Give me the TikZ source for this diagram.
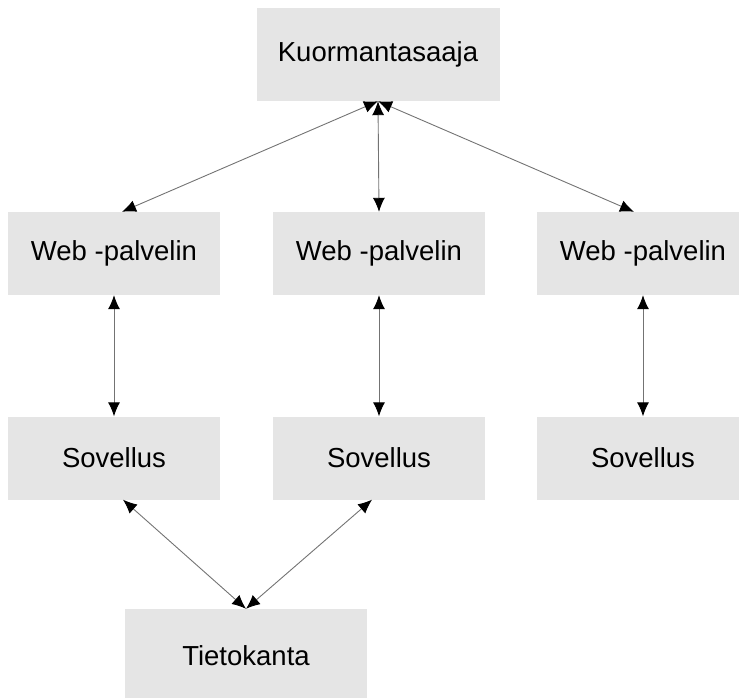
\documentclass[tikz,border=0pt]{standalone}
\usepackage{fontspec}
\setmainfont{Liberation Sans}
\usepackage{tikz}
\usetikzlibrary{arrows.meta}
\definecolor{boxgray}{HTML}{E5E5E5}
\tikzset{>={Latex[length=14pt,width=12pt,black]}}

\begin{document}
\begin{tikzpicture}[x=1pt,y=-1pt,
  box/.style={fill=boxgray, inner sep=0pt, font=\fontsize{27.5}{32}\selectfont},
  tierbox/.style={box, minimum width=212pt, minimum height=83pt},
  link/.style={<->, draw=black!55, line width=0.9pt}]

\useasboundingbox (0,0) rectangle (739,698);

% Load balancer
\node[box, minimum width=243pt, minimum height=93pt] (balancer) at (378,54.5) {Kuormantasaaja};

% Web servers
\node[tierbox] (web1) at (114,253.5) {Web -palvelin};
\node[tierbox] (web2) at (379,253.5) {Web -palvelin};
\node[tierbox] (web3) at (643,253.5) {Web -palvelin};

% Applications
\node[tierbox] (app1) at (114,458) {Sovellus};
\node[tierbox] (app2) at (379,458) {Sovellus};
\node[tierbox] (app3) at (643,458) {Sovellus};

% Database
\node[box, minimum width=242pt, minimum height=93pt] (db) at (246,655.5) {Tietokanta};

% Connections
\draw[link] (balancer.south) -- ([xshift=8pt]web1.north);
\draw[link] (balancer.south) -- (web2.north);
\draw[link] (balancer.south) -- ([xshift=-9pt]web3.north);

\draw[link] (web1.south) -- (app1.north);
\draw[link] (web2.south) -- (app2.north);
\draw[link] (web3.south) -- (app3.north);

\draw[link] ([xshift=9pt]app1.south) -- (db.north);
\draw[link] ([xshift=-7pt]app2.south) -- (db.north);

\end{tikzpicture}
\end{document}
